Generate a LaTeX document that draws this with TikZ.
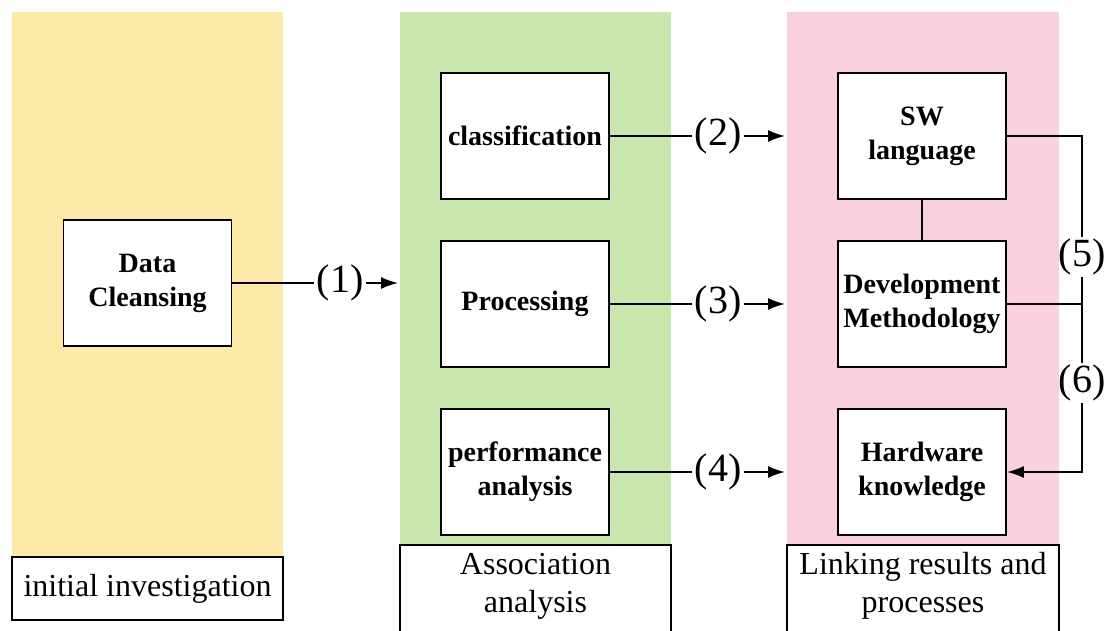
\documentclass[tikz,border=0pt]{standalone}
\usepackage{fontspec}
\setmainfont{Liberation Serif}
\usetikzlibrary{arrows.meta}
\definecolor{bandyellow}{HTML}{FDE9A8}
\definecolor{bandgreen}{HTML}{C8E6AD}
\definecolor{bandpink}{HTML}{F9D0DC}
\tikzset{
  stepbox/.style={draw, line width=1.8pt, fill=white, minimum width=168pt, minimum height=126pt,
    align=center, inner sep=0pt, font=\fontsize{28}{34}\selectfont\bfseries},
  tag/.style={inner sep=2pt, font=\fontsize{40}{40}\selectfont},
  link/.style={line width=1.8pt},
  tip/.style={-{Latex[length=17pt,width=12pt]}},
  caption/.style={align=center, font=\fontsize{32}{38}\selectfont}
}

\begin{document}
\begin{tikzpicture}[x=1pt,y=-1pt]
			\useasboundingbox (0,0) rectangle (1107,630);
			%%%%% BANDS %%%%%
			\fill[bandyellow] (12,12) rectangle (283,557);
			\fill[bandgreen] (400,12) rectangle (671,545);
			\fill[bandpink] (787,12) rectangle (1059,545);
			
			\node[draw, link, fill=white, caption, minimum width=271pt, minimum height=63pt, inner sep=0pt] (initcap) at (147.5,588.5) {initial investigation};
			\draw[link, fill=white] (400,645) rectangle (671,545);
			\node[caption] (assoccap) at (535.5,586) {Association\\analysis};
			\draw[link, fill=white] (787,645) rectangle (1059,545);
			\node[caption] (linkcap) at (923,586) {Linking results and\\processes};
			
			%%%%% BOXES %%%%%
			\node[stepbox] (clean) at (147.5,283) {Data\\Cleansing};
			
			\node[stepbox] (classif) at (525,136) {classification};
			\node[stepbox] (proc) at (525,304) {Processing};
			\node[stepbox] (perf) at (525,472) {performance\\analysis};
			
			\node[stepbox] (swlang) at (922,136) {SW\\language};
			\node[stepbox] (devmeth) at (922,304) {Development\\Methodology};
			\node[stepbox] (hwknow) at (922,472) {Hardware\\knowledge};
			
			%%%%% LINKS %%%%%
			\node[tag] (t1) at (340,283) {(1)};
			\coordinate (e1) at (398,283);
			\draw[link] (clean.east) -- (t1.west);
			\draw[link, tip] (t1.east) -- (e1);
			
			\node[tag] (t2) at (718,136) {(2)};
			\coordinate (e2) at (785,136);
			\draw[link] (classif.east) -- (t2.west);
			\draw[link, tip] (t2.east) -- (e2);
			
			\node[tag] (t3) at (718,304) {(3)};
			\coordinate (e3) at (785,304);
			\draw[link] (proc.east) -- (t3.west);
			\draw[link, tip] (t3.east) -- (e3);
			
			\node[tag] (t4) at (718,472) {(4)};
			\coordinate (e4) at (785,472);
			\draw[link] (perf.east) -- (t4.west);
			\draw[link, tip] (t4.east) -- (e4);
			
			\draw[link] (swlang.south) -- (devmeth.north);
			
			\node[tag] (t5) at (1082,257) {(5)};
			\node[tag] (t6) at (1082,383) {(6)};
			\coordinate (j1) at (1082,136);
			\coordinate (j2) at (1082,304);
			\coordinate (j3) at (1082,472);
			\draw[link] (swlang.east) -- (j1) -- (t5.north);
			\draw[link] (t5.south) -- (j2) -- (t6.north);
			\draw[link] (devmeth.east) -- (j2);
			\draw[link, tip] (t6.south) -- (j3) -- (hwknow.east);
\end{tikzpicture}
\end{document}
